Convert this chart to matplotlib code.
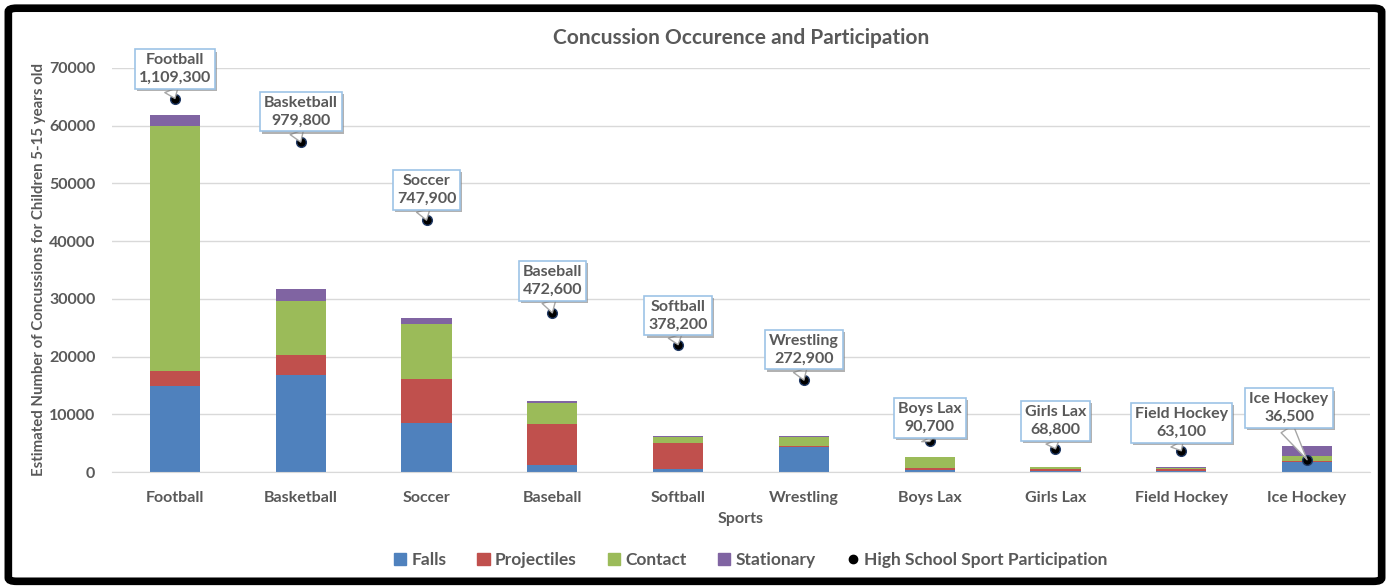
import numpy as np
import matplotlib
matplotlib.use("Agg")
import matplotlib.pyplot as plt
from matplotlib.patches import Patch, FancyBboxPatch
from matplotlib.lines import Line2D
import matplotlib.patheffects as pe

plt.rcParams['font.family'] = ['Lato', 'DejaVu Sans']

sports = ['Football', 'Basketball', 'Soccer', 'Baseball', 'Softball',
          'Wrestling', 'Boys Lax', 'Girls Lax', 'Field Hockey', 'Ice Hockey']
falls = [14850, 16800, 8420, 1140, 470, 4380, 350, 200, 150, 1790]
projectiles = [2600, 3520, 7680, 7230, 4560, 50, 290, 250, 300, 150]
contact = [42580, 9240, 9590, 3580, 1100, 1680, 1960, 400, 300, 830]
stationary = [1900, 2200, 1040, 400, 100, 170, 50, 70, 60, 1730]
participation = [1109300, 979800, 747900, 472600, 378200,
                 272900, 90700, 68800, 63100, 36500]

# callout offsets in points (dx, dy) from the dot
offsets = [(0, 21), (0, 22), (0, 22), (0, 23), (0, 21),
           (0, 22), (0, 17), (0, 20), (0, 20), (-13, 37)]

gray = '#595959'
colors = ['#4F81BD', '#C0504D', '#9BBB59', '#8064A2']

fig = plt.figure(figsize=(13.9, 5.86), dpi=100)
ax = fig.add_axes([0.0806, 0.1945, 0.905, 0.6895])

x = np.arange(len(sports))
w = 0.4
bottom = np.zeros(len(sports))
for vals, c in zip([falls, projectiles, contact, stationary], colors):
    ax.bar(x, vals, w, bottom=bottom, color=c, zorder=2)
    bottom += np.array(vals)

ax.set_xlim(-0.5, len(sports) - 0.5)
ax.set_ylim(0, 70000)
ax.set_yticks(range(0, 70001, 10000))
ax.set_xticks(x)
ax.set_xticklabels(sports)
ax.grid(axis='y', color='#D9D9D9', lw=1, zorder=0)
for s in ['top', 'right', 'left']:
    ax.spines[s].set_visible(False)
ax.spines['bottom'].set_color('#D9D9D9')
ax.tick_params(length=0, colors=gray, labelsize=11.5, pad=12)
for lab in ax.get_xticklabels() + ax.get_yticklabels():
    lab.set_fontweight('bold')
ax.tick_params(axis='x', pad=14)
ax.set_xlabel('Sports', color=gray, fontsize=11.5, fontweight='bold', labelpad=5)
ax.set_ylabel('Estimated Number of Concussions for Children 5-15 years old',
              color=gray, fontsize=10.8, fontweight='bold', labelpad=2)
ax.set_title('Concussion Occurence and Participation', color=gray,
             fontsize=15, fontweight='bold', pad=17)

ax2 = ax.twinx()
ax2.set_ylim(0, 1200000)
ax2.set_yticks([])
for s in ax2.spines.values():
    s.set_visible(False)
ax2.plot(x, participation, 'o', color='black', ms=7, mec='#1F3864', zorder=5)

for xi, p, name, (dx, dy) in zip(x, participation, sports, offsets):
    ann = ax2.annotate(f'{name}\n{p:,}', xy=(xi, p), xytext=(dx, dy),
                       textcoords='offset points', ha='center', va='center',
                       fontsize=11.5, fontweight='bold', color=gray,
                       linespacing=1.35, zorder=6,
                       bbox=dict(boxstyle='square,pad=0.25', fc='white',
                                 ec='#9DC3E6', lw=1.2),
                       arrowprops=dict(arrowstyle='wedge,tail_width=0.9,shrink_factor=0.5',
                                       fc='white', ec='#A6A6A6', lw=1,
                                       relpos=(0.4, 0.15),
                                       shrinkA=0, shrinkB=0))
    ann.get_bbox_patch().set_path_effects(
        [pe.SimplePatchShadow(offset=(1.5, -1.5), shadow_rgbFace='#7F7F7F', alpha=0.6),
         pe.Normal()])

handles = [Patch(color=c) for c in colors]
handles.append(Line2D([], [], marker='o', ls='', color='black', ms=6))
labels = ['Falls', 'Projectiles', 'Contact', 'Stationary',
          'High School Sport Participation']
leg = fig.legend(handles, labels, loc='center', bbox_to_anchor=(0.54, 0.044),
                 ncol=5, frameon=False, fontsize=12.5, handlelength=0.7,
                 handleheight=0.7, handletextpad=0.3, columnspacing=1.8)
for t in leg.get_texts():
    t.set_color(gray)
    t.set_fontweight('bold')

frame = FancyBboxPatch((0.006, 0.008), 0.988, 0.978,
                       boxstyle='round,pad=0,rounding_size=0.006',
                       transform=fig.transFigure, fc='none', ec='black',
                       lw=5.5, zorder=10)
fig.patches.append(frame)

fig.savefig('out.png', dpi=100)
